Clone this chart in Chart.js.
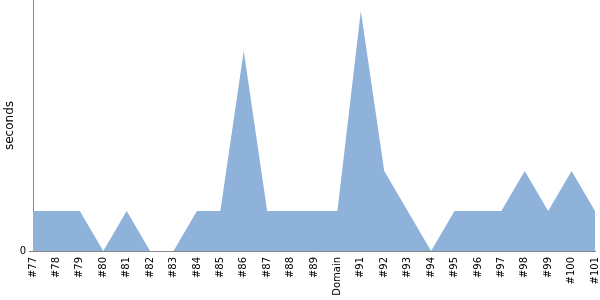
<!DOCTYPE html>
<html>
<head>
<meta charset="utf-8">
<script src="https://cdn.jsdelivr.net/npm/chart.js@4/dist/chart.umd.min.js"></script>
<style>
  html, body { margin: 0; padding: 0; background: #fff; }
  #wrap { width: 600px; height: 300px; }
</style>
</head>
<body>
<div id="wrap"><canvas id="chart"></canvas></div>
<script>
// categories and values
const labels = ['#77', '#78', '#79', '#80', '#81', '#82', '#83', '#84', '#85', '#86', '#87', '#88', '#89',
    'Domain', '#91', '#92', '#93', '#94', '#95', '#96', '#97', '#98', '#99', '#100', '#101'];
const seconds = [1, 1, 1, 0, 1, 0, 0, 1, 1, 5, 1, 1, 1, 1, 6, 2, 1, 0, 1, 1, 1, 2, 1, 2, 1];
const yTicks = [0];

const axisColor = '#888888';
const fillColor = 'rgb(143,178,219)';

new Chart(document.getElementById('chart'), {
    type: 'line',
    data: {
        labels: labels,
        datasets: [{
            data: seconds,
            fill: 'origin',
            backgroundColor: fillColor,
            borderWidth: 0,
            pointRadius: 0,
            tension: 0
        }]
    },
    options: {
        responsive: true,
        maintainAspectRatio: false,
        animation: false,
        layout: { padding: { top: 0, right: 5, left: 0, bottom: 0 } },
        plugins: { legend: { display: false }, tooltip: { enabled: false } },
        scales: {
            x: {
                offset: false,
                grid: { display: false },
                border: { display: true, color: axisColor, width: 1 },
                ticks: {
                    autoSkip: false,
                    minRotation: 90,
                    maxRotation: 90,
                    padding: -2,
                    color: '#000',
                    font: { family: 'DejaVu Sans', size: 10 }
                },
                afterFit: (scale) => {
                    scale.height = 49;
                    scale.paddingLeft = 0;
                    scale.paddingRight = 0;
                }
            },
            y: {
                min: 0,
                max: 6.275,
                afterBuildTicks: (scale) => { scale.ticks = yTicks.map(v => ({ value: v })); },
                grid: { display: true, drawOnChartArea: false, tickLength: 4, color: axisColor },
                border: { display: true, color: axisColor, width: 1 },
                ticks: {
                    padding: 3,
                    color: '#000',
                    font: { family: 'DejaVu Sans', size: 10 }
                },
                title: {
                    display: true,
                    text: 'seconds',
                    color: '#000',
                    padding: { top: 3, bottom: 0 },
                    font: { family: 'DejaVu Sans', size: 12 }
                },
                afterFit: (scale) => {
                    scale.width = 33;
                    scale.paddingTop = 0;
                    scale.paddingBottom = 0;
                }
            }
        }
    }
});
</script>
</body>
</html>
